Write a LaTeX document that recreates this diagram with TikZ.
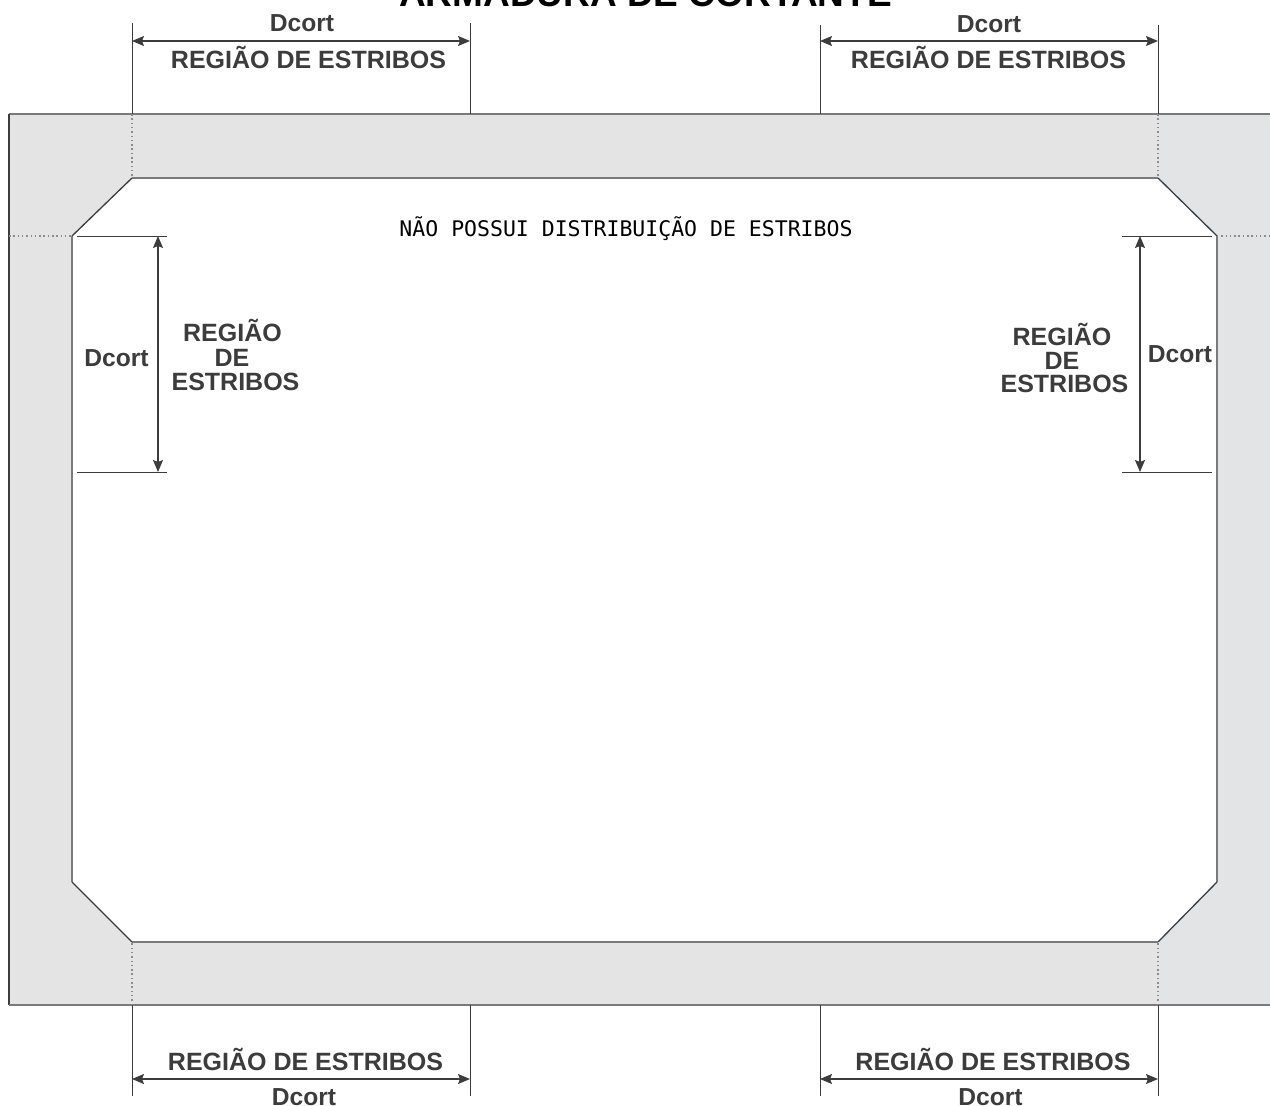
\documentclass[tikz,border=0pt]{standalone}
\usepackage{fontspec}
\setmainfont{Liberation Sans}
\newfontfamily\monofam{DejaVu Sans Mono}
\usetikzlibrary{arrows.meta}
\definecolor{ink}{HTML}{3C3C3C}
\definecolor{wallL}{HTML}{E4E4E4}
\definecolor{wallR}{HTML}{E2E4E6}
\definecolor{edge}{HTML}{7A7A7A}
\tikzset{
 x=1pt,y=-1pt,
 lab/.style={font=\fontsize{25}{25}\selectfont\bfseries,text=ink,inner sep=0pt,anchor=base,align=center},
 dc/.style={font=\fontsize{24.6}{25}\selectfont\bfseries,text=ink,inner sep=0pt,anchor=base},
 ext/.style={draw=ink,line width=1pt},
 dim/.style={draw=ink,line width=1.2pt,{Stealth[length=12pt,width=10pt,inset=2pt]}-{Stealth[length=12pt,width=10pt,inset=2pt]}},
 hid/.style={draw=gray!90,line width=1.2pt,dash pattern=on 1.5pt off 2.8pt},
 wall/.style={draw=edge,line width=2pt},
 chamfer/.style={draw=ink,line width=1.3pt},
}
\begin{document}
\begin{tikzpicture}
\useasboundingbox (0,0) rectangle (1270,1106);
\fill[white] (0,0) rectangle (1270,1106);
% concrete
\fill[wallL] (9,114) rectangle (1270,1005);
\fill[wallR] (1158,114) rectangle (1270,1005);
% opening
\coordinate (o1) at (132,178); \coordinate (o2) at (1158,178);
\coordinate (o3) at (1217,236); \coordinate (o4) at (1217,882);
\coordinate (o5) at (1158,942); \coordinate (o6) at (132,942);
\coordinate (o7) at (72,882); \coordinate (o8) at (72,236);
\fill[white] (o1)--(o2)--(o3)--(o4)--(o5)--(o6)--(o7)--(o8)--cycle;
\draw[wall] (o1)--(o2);
\draw[chamfer] (o2)--(o3);
\draw[wall] (o3)--(o4);
\draw[chamfer] (o4)--(o5);
\draw[wall] (o5)--(o6);
\draw[chamfer] (o6)--(o7);
\draw[wall] (o7)--(o8);
\draw[chamfer] (o8)--(o1);
% outer edges
\coordinate (tl) at (9,114); \coordinate (tr) at (1270,114);
\coordinate (bl) at (9,1005); \coordinate (br) at (1270,1005);
\draw[wall] (tr)--(tl);
\draw[draw=ink,line width=1.6pt] (tl)--(bl);
\draw[wall] (bl)--(br);
% hidden lines
\coordinate (ta) at (132,114); \coordinate (tb) at (1158,114);
\coordinate (ba) at (132,1005); \coordinate (bb) at (1158,1005);
\coordinate (la) at (9,236); \coordinate (ra) at (1270,236);
\draw[hid] (ta)--(o1); \draw[hid] (tb)--(o2);
\draw[hid] (ba)--(o6); \draw[hid] (bb)--(o5);
\draw[hid] (la)--(o8); \draw[hid] (ra)--(o3);
% top-left dimension
\coordinate (a1) at (132,23); \coordinate (a2) at (470,23);
\coordinate (a3) at (470,114); \coordinate (a4) at (132,41);\coordinate (a5) at (470,41);
\draw[ext] (a1)--(ta); \draw[ext] (a2)--(a3);
\draw[dim] (a4)--(a5);
% top-right dimension
\coordinate (b1) at (820,25); \coordinate (b2) at (1158,25);
\coordinate (b3) at (820,114); \coordinate (b4) at (820,41);\coordinate (b5) at (1158,41);
\draw[ext] (b1)--(b3); \draw[ext] (b2)--(tb);
\draw[dim] (b4)--(b5);
% bottom-left dimension
\coordinate (c1) at (132,1096); \coordinate (c2) at (470,1096);
\coordinate (c3) at (470,1005); \coordinate (c4) at (132,1079);\coordinate (c5) at (470,1079);
\draw[ext] (c1)--(ba); \draw[ext] (c2)--(c3);
\draw[dim] (c4)--(c5);
% bottom-right dimension
\coordinate (d1) at (820,1096); \coordinate (d2) at (1158,1096);
\coordinate (d3) at (820,1005); \coordinate (d4) at (820,1079);\coordinate (d5) at (1158,1079);
\draw[ext] (d1)--(d3); \draw[ext] (d2)--(bb);
\draw[dim] (d4)--(d5);
% left dimension
\coordinate (e1) at (77,236); \coordinate (e2) at (167,236);
\coordinate (e3) at (77,472); \coordinate (e4) at (167,472);
\coordinate (e5) at (158,236); \coordinate (e6) at (158,472);
\draw[ext] (e1)--(e2); \draw[ext] (e3)--(e4);
\draw[dim] (e5)--(e6);
% right dimension
\coordinate (f1) at (1122,236); \coordinate (f2) at (1212,236);
\coordinate (f3) at (1122,472); \coordinate (f4) at (1212,472);
\coordinate (f5) at (1140,236); \coordinate (f6) at (1140,472);
\draw[ext] (f1)--(f2); \draw[ext] (f3)--(f4);
\draw[dim] (f5)--(f6);
% texts
\node[font=\fontsize{37}{37}\selectfont\bfseries,text=black,inner sep=0pt,anchor=base] (title) at (645.5,6) {ARMADURA DE CORTANTE};
\node[dc] (t1) at (302,31) {Dcort};
\node[dc] (t2) at (989,32) {Dcort};
\node[lab] (t3) at (308.5,68) {REGIÃO DE ESTRIBOS};
\node[lab] (t4) at (988.5,68) {REGIÃO DE ESTRIBOS};
\node[lab] (t5) at (305.5,1070) {REGIÃO DE ESTRIBOS};
\node[lab] (t6) at (993,1070) {REGIÃO DE ESTRIBOS};
\node[dc] (t7) at (304,1105) {Dcort};
\node[dc] (t8) at (990.5,1105) {Dcort};
\node[dc] (t9) at (116.5,366) {Dcort};
\node[dc] (t10) at (1180,362) {Dcort};
\node[lab] (t11) at (232.5,341) {REGIÃO};
\node[lab] (t12) at (232,366) {DE};
\node[lab] (t13) at (235.5,390) {ESTRIBOS};
\node[lab] (t14) at (1062,345) {REGIÃO};
\node[lab] (t15) at (1062,369) {DE};
\node[lab] (t16) at (1064.5,392) {ESTRIBOS};
\node[font=\fontsize{21.5}{22}\monofam,text=black,inner sep=0pt,anchor=base] (t17) at (626,236) {NÃO POSSUI DISTRIBUIÇÃO DE ESTRIBOS};
\end{tikzpicture}
\end{document}
